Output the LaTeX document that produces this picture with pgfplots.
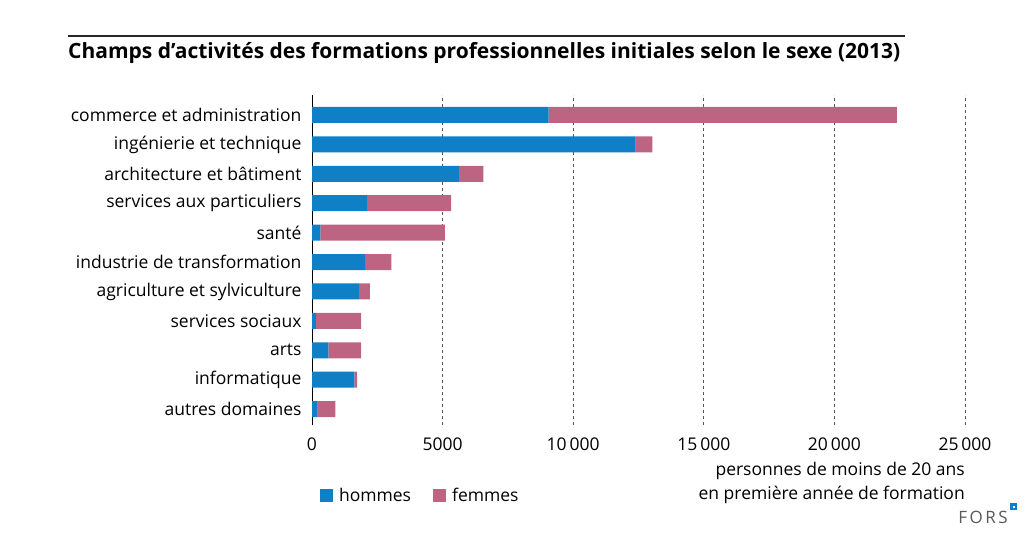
\documentclass[border=0pt]{standalone}
\usepackage{pgfplots}
\pgfplotsset{compat=1.18}
\usepackage{fontspec}
\setmainfont{Open Sans}

\definecolor{hblue}{HTML}{0F7FC6}
\definecolor{fpink}{HTML}{BD6482}
\definecolor{gridgray}{HTML}{555555}

\begin{document}
\begin{tikzpicture}[x=1pt,y=1pt]
\path[use as bounding box] (0,0) rectangle (1035,538);

% title and rule above it
\draw[line width=2pt, black!85] (68,502) -- (905,502);
\node[anchor=base west, inner sep=0pt, font=\fontsize{21}{25}\selectfont\bfseries] at (68,479)
  {Champs d’activités des formations professionnelles initiales selon le sexe (2013)};

\begin{axis}[
    at={(312pt,113pt)}, anchor=south west,
    scale only axis, width=653pt, height=330pt,
    xbar stacked, bar width=16pt,
    xmin=0, xmax=25000,
    ymin=-0.54, ymax=10.68,
    xtick={0,5000,10000,15000,20000,25000},
    ytick={0,...,10},
    yticklabels={autres domaines, informatique, arts, services sociaux,
      agriculture et sylviculture, industrie de transformation, santé,
      services aux particuliers, architecture et bâtiment,
      ingénierie et technique, commerce et administration},
    axis x line*=bottom, x axis line style={draw=none},
    axis y line*=left, y axis line style={-, line width=1pt, black},
    major tick length=0pt,
    xmajorgrids=true,
    grid style={dashed, gridgray, line width=0.8pt},
    tick label style={font=\fontsize{17.5}{20}\selectfont},
    yticklabel style={xshift=-7pt},
    xticklabel style={yshift=-9pt},
    /pgf/number format/assume math mode=true,
    /pgf/number format/1000 sep={\,},
    /pgf/number format/min exponent for 1000 sep=4,
    scaled ticks=false,
    xlabel={personnes de moins de 20 ans\\en première année de formation},
    xlabel style={at={(rel axis cs:1,-0.113)}, anchor=north east, align=right,
      font=\fontsize{17.5}{23.5}\selectfont, inner sep=0pt},
    legend columns=2,
    legend style={at={(rel axis cs:0.012,-0.215)}, anchor=west, draw=none,
      font=\fontsize{17.5}{20}\selectfont, inner sep=0pt,
      nodes={inner xsep=6pt, inner ysep=0pt},
      /tikz/every even column/.append style={column sep=16pt}},
    legend image code/.code={\fill[#1] (0pt,-6.5pt) rectangle (13pt,6.5pt);},
    legend cell align=left,
]
% hommes
\addplot[fill=hblue, draw=none] coordinates {
  (220,0) (1627,1) (627,2) (153,3) (1797,4) (2034,5) (322,6)
  (2102,7) (5627,8) (12390,9) (9060,10)};
% femmes
\addplot[fill=fpink, draw=none] coordinates {
  (678,0) (102,1) (1254,2) (1728,3) (423,4) (1000,5) (4763,6)
  (3220,7) (932,8) (644,9) (13330,10)};
\legend{hommes, femmes}
\end{axis}

% FORS mark
\node[anchor=base east, inner sep=0pt, text=black!65, font=\fontsize{17}{20}\selectfont]
  at (1008,15) {F\hspace{2.5pt}O\hspace{2.5pt}R\hspace{2.5pt}S};
\fill[hblue] (1010,28) rectangle (1017,35);
\fill[white] (1012.5,30.5) rectangle (1014.5,32.5);
\end{tikzpicture}
\end{document}
